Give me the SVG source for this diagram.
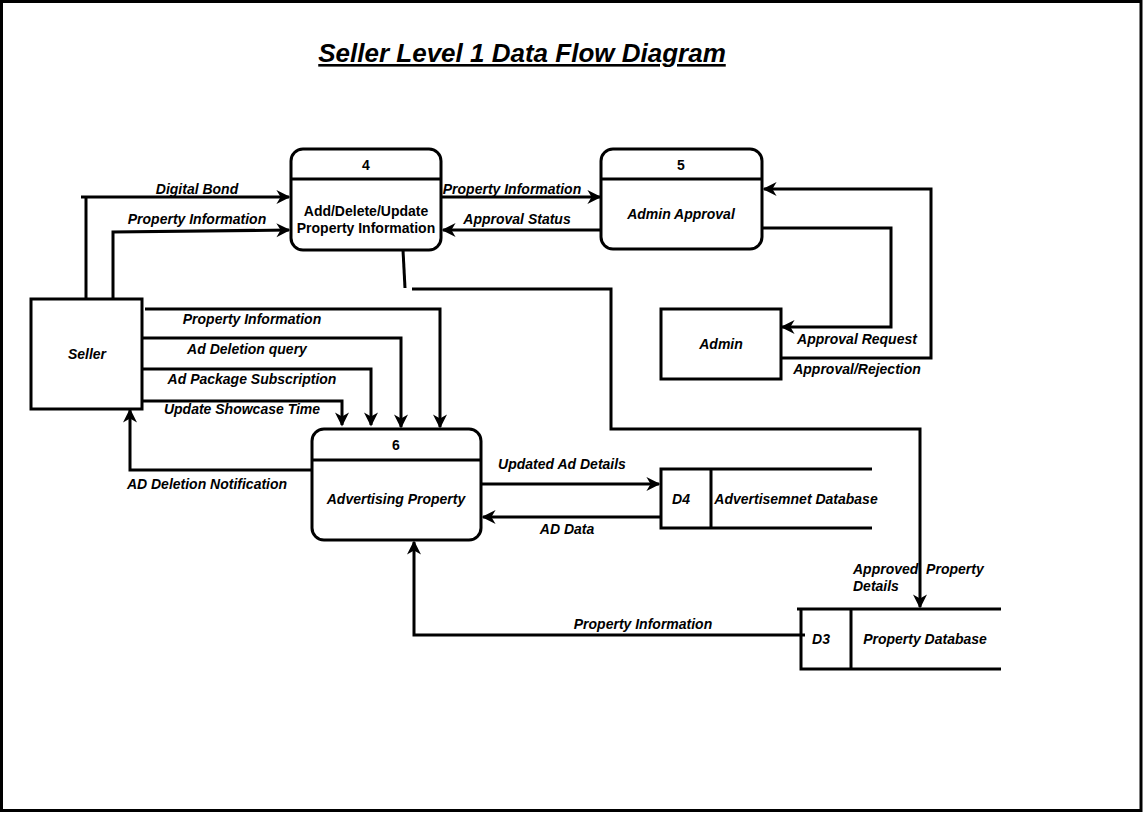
<svg xmlns="http://www.w3.org/2000/svg" width="1143" height="813" viewBox="0 0 1143 813">
<style>
.box{fill:#fff;stroke:#000;stroke-width:3}
.ln{fill:none;stroke:#000;stroke-width:3}
.c{fill:none;stroke:#000;stroke-width:3;marker-end:url(#ah)}
text{font-family:"Liberation Sans",Arial,sans-serif;font-weight:bold;font-size:14px;fill:#000}
.i{font-style:italic}
.m{text-anchor:middle}
</style>
<defs>
<marker id="ah" viewBox="0 0 10 10" refX="9" refY="5" markerWidth="14" markerHeight="14" markerUnits="userSpaceOnUse" orient="auto" overflow="visible">
<path d="M0,0 L10,5 L0,10 L3,5 z" fill="#000"/>
</marker>
</defs>
<rect x="1.5" y="1.5" width="1139.5" height="809" fill="#fff" stroke="#000" stroke-width="3"/>
<text x="522" y="62" class="i m" style="font-size:26px;text-decoration:underline">Seller Level 1 Data Flow Diagram</text>

<g id="connectors">
<path class="c" d="M81,197 L289,197"/>
<path class="ln" d="M86,197 L86,299"/>
<path class="c" d="M113,299 L113,232 L289,230"/>
<path class="c" d="M441,197 L600,197"/>
<path class="c" d="M601,230 L443,230"/>
<path class="c" d="M762,228 L891,228 L891,327 L782,327"/>
<path class="c" d="M781,358 L931,358 L931,189 L764,189"/>
<path class="ln" d="M403,250 L405,288"/>
<path class="c" d="M412,289 L611,289 L611,429 L920,429 L920,607"/>
<path class="c" d="M145,309 L440,309 L440,427"/>
<path class="c" d="M142,338 L401,338 L401,427"/>
<path class="c" d="M142,369 L371,369 L371,425"/>
<path class="c" d="M142,401 L342,401 L342,425"/>
<path class="c" d="M313,470 L130,470 L130,410"/>
<path class="c" d="M481,484 L659,484"/>
<path class="c" d="M661,517 L483,517"/>
<path class="c" d="M805,635 L414,635 L414,542"/>
<text x="197" y="194" class="i m">Digital Bond</text>
<text x="197" y="224" class="i m">Property Information</text>
<text x="512" y="194" class="i m">Property Information</text>
<text x="517" y="224" class="i m">Approval Status</text>
<text x="857" y="344" class="i m">Approval Request</text>
<text x="857" y="374" class="i m">Approval/Rejection</text>
<text x="252" y="324" class="i m">Property Information</text>
<text x="247" y="354" class="i m">Ad Deletion query</text>
<text x="252" y="384" class="i m">Ad Package Subscription</text>
<text x="242" y="414" class="i m">Update Showcase Time</text>
<text x="207" y="489" class="i m">AD Deletion Notification</text>
<text x="562" y="469" class="i m">Updated Ad Details</text>
<text x="567" y="534" class="i m">AD Data</text>
<text x="643" y="629" class="i m">Property Information</text>
<text x="853" y="574" class="i" xml:space="preserve">Approved  Property</text>
<text x="853" y="591" class="i">Details</text>
</g>

<g id="p4">
<rect class="box" x="291" y="149" width="150" height="101" rx="12"/>
<path class="ln" d="M291,179 L441,179"/>
<text x="366" y="170" class="m">4</text>
<text x="366" y="216" class="m">Add/Delete/Update</text>
<text x="366" y="233" class="m">Property Information</text>
</g>
<g id="p5">
<rect class="box" x="601" y="149" width="161" height="100" rx="12"/>
<path class="ln" d="M601,179 L762,179"/>
<text x="681" y="170" class="m">5</text>
<text x="681" y="219" class="i m">Admin Approval</text>
</g>
<g id="seller">
<rect class="box" x="31" y="299" width="111" height="110"/>
<text x="87" y="359" class="i m">Seller</text>
</g>
<g id="admin">
<rect class="box" x="661" y="309" width="120" height="70"/>
<text x="721" y="349" class="i m">Admin</text>
</g>
<g id="p6">
<rect class="box" x="312" y="429" width="169" height="111" rx="12"/>
<path class="ln" d="M312,460 L481,460"/>
<text x="396" y="450" class="m">6</text>
<text x="396" y="504" class="i m">Advertising Property</text>
</g>
<g id="d4">
<path class="ln" d="M872,469 L661,469 L661,528 L872,528 M711,469 L711,528"/>
<text x="681" y="504" class="i m">D4</text>
<text x="796" y="504" class="i m">Advertisemnet Database</text>
</g>
<g id="d3">
<path class="ln" d="M797,609 L1001,609 M801,609 L801,669 L1001,669 M851,609 L851,669"/>
<text x="821" y="644" class="i m">D3</text>
<text x="925" y="644" class="i m">Property Database</text>
</g>
</svg>
